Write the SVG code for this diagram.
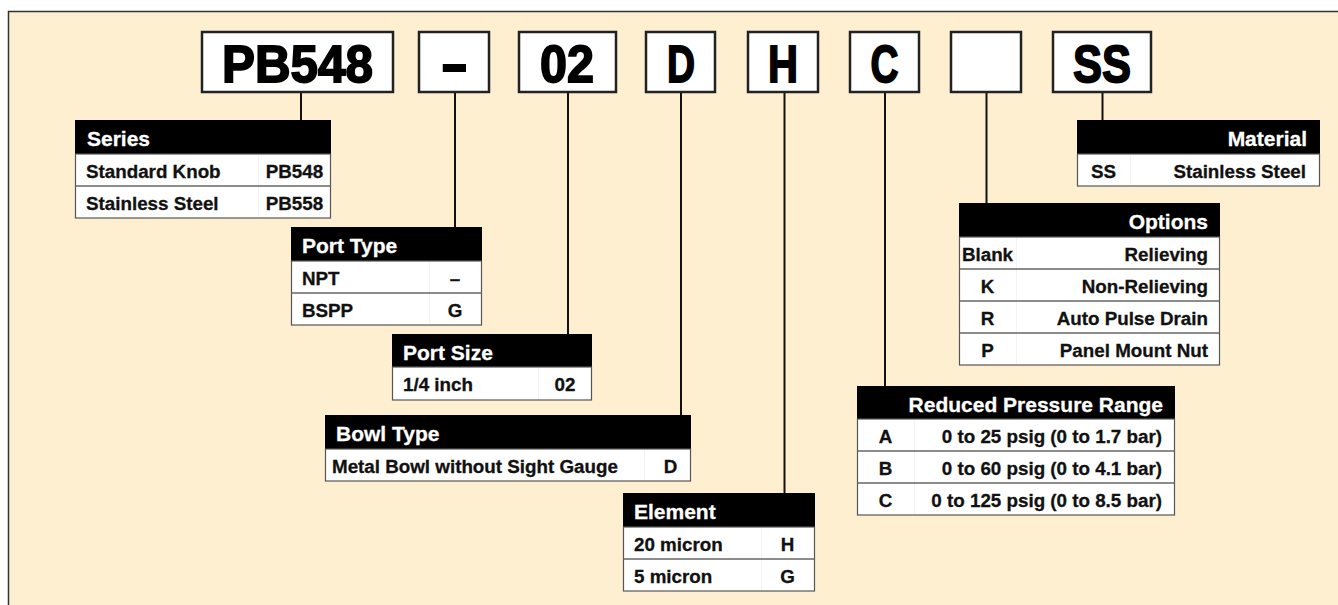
<svg xmlns="http://www.w3.org/2000/svg" width="1338" height="605" viewBox="0 0 1338 605">
<style>
.panel{fill:#FEEFD0;stroke:#333;stroke-width:1.5}
.code{fill:#fff;stroke:#222;stroke-width:2.5}
.ct{font-family:"Liberation Sans",Arial,sans-serif;font-weight:bold;font-size:52px;fill:#000;stroke:#000;stroke-width:1.8;text-anchor:middle}
.hd{fill:#000}
.bd{fill:#fff;stroke:#555;stroke-width:1.2}
.rl{stroke:#666;stroke-width:1.5}
.cd{stroke:#f3f3f3;stroke-width:1}
.ht{font-family:"Liberation Sans",Arial,sans-serif;font-weight:bold;font-size:21px;fill:#fff;stroke:#fff;stroke-width:0.3}
.rt{font-family:"Liberation Sans",Arial,sans-serif;font-weight:bold;font-size:18.8px;fill:#111;stroke:#111;stroke-width:0.3}
.m{text-anchor:middle}
.e{text-anchor:end}
.conn line{stroke:#111;stroke-width:2}
</style>
<rect class="panel" x="8.5" y="11.5" width="1340" height="600"/>

<g class="conn">
<line x1="301" y1="92" x2="301" y2="120"/>
<line x1="455" y1="92" x2="455" y2="227"/>
<line x1="568" y1="92" x2="568" y2="334"/>
<line x1="681" y1="92" x2="681" y2="415"/>
<line x1="784.5" y1="92" x2="784.5" y2="493"/>
<line x1="885" y1="92" x2="885" y2="386"/>
<line x1="986.5" y1="92" x2="986.5" y2="203"/>
<line x1="1102.5" y1="92" x2="1102.5" y2="120"/>
</g>

<g id="code-pb548"><rect class="code" x="202" y="32" width="191" height="60"/><text class="ct" x="297.5" y="82" textLength="151" lengthAdjust="spacingAndGlyphs">PB548</text></g>
<g id="code-dash"><rect class="code" x="419" y="32" width="70" height="60"/><text class="ct" transform="translate(454.5,81) scale(1.55,1)" x="0" y="0">-</text></g>
<g id="code-02"><rect class="code" x="519" y="32" width="97" height="60"/><text class="ct" x="567" y="82" textLength="54" lengthAdjust="spacingAndGlyphs">02</text></g>
<g id="code-d"><rect class="code" x="646" y="32" width="69" height="60"/><text class="ct" x="681" y="82" textLength="28" lengthAdjust="spacingAndGlyphs">D</text></g>
<g id="code-h"><rect class="code" x="748" y="32" width="70" height="60"/><text class="ct" x="783" y="82" textLength="30" lengthAdjust="spacingAndGlyphs">H</text></g>
<g id="code-c"><rect class="code" x="850" y="32" width="69" height="60"/><text class="ct" x="884.5" y="82" textLength="28" lengthAdjust="spacingAndGlyphs">C</text></g>
<g id="code-blank"><rect class="code" x="951" y="32" width="70" height="60"/></g>
<g id="code-ss"><rect class="code" x="1053" y="32" width="98" height="60"/><text class="ct" x="1102" y="82" textLength="58" lengthAdjust="spacingAndGlyphs">SS</text></g>

<g id="series">
<rect class="hd" x="75" y="120" width="256" height="34"/>
<rect class="bd" x="75.5" y="154" width="255" height="64"/>
<line class="cd" x1="258.5" y1="155" x2="258.5" y2="217"/>
<line class="rl" x1="75.5" y1="186" x2="330.5" y2="186"/>
<text class="ht" x="87" y="146">Series</text>
<text class="rt" x="86" y="177.5">Standard Knob</text><text class="rt m" x="294.5" y="177.5">PB548</text>
<text class="rt" x="86" y="209.5">Stainless Steel</text><text class="rt m" x="294.5" y="209.5">PB558</text>
</g>

<g id="port-type">
<rect class="hd" x="291" y="227" width="191" height="34"/>
<rect class="bd" x="291.5" y="261" width="190" height="64"/>
<line class="cd" x1="429.5" y1="262" x2="429.5" y2="324"/>
<line class="rl" x1="291.5" y1="293" x2="481.5" y2="293"/>
<text class="ht" x="302" y="253">Port Type</text>
<text class="rt" x="302" y="284.5">NPT</text><text class="rt m" x="455" y="284.5">–</text>
<text class="rt" x="302" y="316.5">BSPP</text><text class="rt m" x="455" y="316.5">G</text>
</g>

<g id="port-size">
<rect class="hd" x="392" y="334" width="200" height="33"/>
<rect class="bd" x="392.5" y="367" width="199" height="33"/>
<line class="cd" x1="538.5" y1="368" x2="538.5" y2="399"/>
<text class="ht" x="403" y="359.5">Port Size</text>
<text class="rt" x="403" y="390.5">1/4 inch</text><text class="rt m" x="565" y="390.5">02</text>
</g>

<g id="bowl-type">
<rect class="hd" x="325" y="415" width="366" height="34"/>
<rect class="bd" x="325.5" y="449" width="365" height="32"/>
<line class="cd" x1="644.5" y1="450" x2="644.5" y2="480"/>
<text class="ht" x="336" y="441">Bowl Type</text>
<text class="rt" x="332" y="472.5">Metal Bowl without Sight Gauge</text><text class="rt m" x="670.5" y="472.5">D</text>
</g>

<g id="element">
<rect class="hd" x="623" y="493" width="192" height="34"/>
<rect class="bd" x="623.5" y="527" width="191" height="64"/>
<line class="cd" x1="761.5" y1="528" x2="761.5" y2="590"/>
<line class="rl" x1="623.5" y1="559" x2="814.5" y2="559"/>
<text class="ht" x="634" y="519">Element</text>
<text class="rt" x="634" y="550.5">20 micron</text><text class="rt m" x="787.5" y="550.5">H</text>
<text class="rt" x="634" y="582.5">5 micron</text><text class="rt m" x="787.5" y="582.5">G</text>
</g>

<g id="pressure-range">
<rect class="hd" x="857" y="386" width="318" height="33"/>
<rect class="bd" x="857.5" y="419" width="317" height="96"/>
<line class="cd" x1="914.5" y1="420" x2="914.5" y2="514"/>
<line class="rl" x1="857.5" y1="451" x2="1174.5" y2="451"/>
<line class="rl" x1="857.5" y1="483" x2="1174.5" y2="483"/>
<text class="ht e" x="1163" y="411.5">Reduced Pressure Range</text>
<text class="rt m" x="885.5" y="442.5">A</text><text class="rt e" x="1162" y="442.5">0 to 25 psig (0 to 1.7 bar)</text>
<text class="rt m" x="885.5" y="474.5">B</text><text class="rt e" x="1162" y="474.5">0 to 60 psig (0 to 4.1 bar)</text>
<text class="rt m" x="885.5" y="506.5">C</text><text class="rt e" x="1162" y="506.5">0 to 125 psig (0 to 8.5 bar)</text>
</g>

<g id="options">
<rect class="hd" x="959" y="203" width="261" height="34"/>
<rect class="bd" x="959.5" y="237" width="260" height="128"/>
<line class="cd" x1="1016.5" y1="238" x2="1016.5" y2="364"/>
<line class="rl" x1="959.5" y1="269" x2="1219.5" y2="269"/>
<line class="rl" x1="959.5" y1="301" x2="1219.5" y2="301"/>
<line class="rl" x1="959.5" y1="333" x2="1219.5" y2="333"/>
<text class="ht e" x="1208" y="229">Options</text>
<text class="rt m" x="987.5" y="260.5">Blank</text><text class="rt e" x="1208" y="260.5">Relieving</text>
<text class="rt m" x="987.5" y="292.5">K</text><text class="rt e" x="1208" y="292.5">Non-Relieving</text>
<text class="rt m" x="987.5" y="324.5">R</text><text class="rt e" x="1208" y="324.5">Auto Pulse Drain</text>
<text class="rt m" x="987.5" y="356.5">P</text><text class="rt e" x="1208" y="356.5">Panel Mount Nut</text>
</g>

<g id="material">
<rect class="hd" x="1077" y="120" width="243" height="34"/>
<rect class="bd" x="1077.5" y="154" width="242" height="32"/>
<line class="cd" x1="1130.5" y1="155" x2="1130.5" y2="185"/>
<text class="ht e" x="1307" y="146">Material</text>
<text class="rt m" x="1103.5" y="177.5">SS</text><text class="rt e" x="1306" y="177.5">Stainless Steel</text>
</g>
</svg>
